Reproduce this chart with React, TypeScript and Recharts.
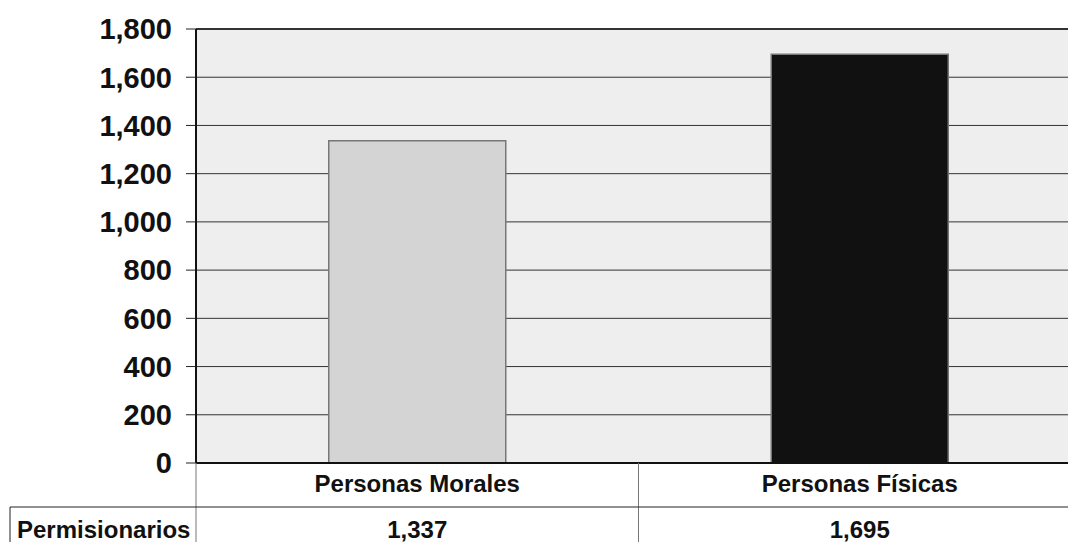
import { BarChart, Bar, XAxis, YAxis, CartesianGrid, Cell, ReferenceLine } from "recharts";

const categories = ["Personas Morales", "Personas Físicas"];
const permisionarios = [1337, 1695];
const barColors = ["#d4d4d4", "#111111"];
const yTicks = [0, 200, 400, 600, 800, 1000, 1200, 1400, 1600, 1800];
const rowLabel = "Permisionarios";

const data = categories.map((name, i) => ({ name, value: permisionarios[i] }));

const fmt = (v: number) => v.toLocaleString("en-US");
const FONT = "'Liberation Sans', Arial, sans-serif";

// category row + data-table row drawn under the plot
const TableTick = (props: any) => {
  const { x, y, index, payload, width, visibleTicksCount } = props;
  const n = visibleTicksCount || categories.length;
  const half = (width || 885) / (2 * n);
  const left = x - half;
  const right = x + half;
  const value = data[index]?.value;
  const textStyle = { fontFamily: FONT, fontWeight: "bold" as const, fontSize: 24, fill: "#111" };
  return (
    <g>
      {index === 0 && <line x1={left} y1={y} x2={left} y2={y + 95} stroke="#777" />}
      <line x1={right} y1={y} x2={right} y2={y + 95} stroke="#777" />
      <line x1={index === 0 ? 10 : left} y1={y + 44} x2={right} y2={y + 44} stroke="#222" />
      {index === 0 && (
        <>
          <line x1={10} y1={y + 44} x2={10} y2={y + 95} stroke="#222" />
          <text x={17} y={y + 75} textAnchor="start" {...textStyle}>
            {rowLabel}
          </text>
        </>
      )}
      <text x={x} y={y + 29} textAnchor="middle" {...textStyle}>
        {payload.value}
      </text>
      <text x={x} y={y + 75} textAnchor="middle" {...textStyle}>
        {value !== undefined ? fmt(value) : ""}
      </text>
    </g>
  );
};

export default function App() {
  return (
    <div
      style={{
        position: "absolute",
        left: 0,
        top: 0,
        width: 1068,
        height: 542,
        overflow: "hidden",
        background: "#fff",
      }}
    >
      <BarChart
        width={1090}
        height={552}
        data={data}
        margin={{ top: 29, right: 9, left: 0, bottom: 0 }}
        barCategoryGap="30%"
        style={{ fontFamily: FONT }}
      >
        <CartesianGrid vertical={false} stroke="#333" fill="#eeeeee" fillOpacity={1} />
        <XAxis
          dataKey="name"
          height={89}
          tickLine={false}
          tickSize={0}
          tickMargin={0}
          interval={0}
          axisLine={{ stroke: "#111", strokeWidth: 2 }}
          tick={<TableTick />}
        />
        <YAxis
          width={196}
          domain={[0, 1800]}
          ticks={yTicks}
          interval={0}
          tickFormatter={fmt}
          tickSize={10}
          tickMargin={14}
          axisLine={{ stroke: "#111", strokeWidth: 2 }}
          tickLine={{ stroke: "#222" }}
          tick={{ fill: "#111", fontSize: 29, fontWeight: "bold", fontFamily: FONT }}
        />
        <ReferenceLine y={1800} stroke="#333" strokeWidth={2} />
        <Bar dataKey="value" stroke="#777" strokeWidth={1.5} isAnimationActive={false}>
          {data.map((d, i) => (
            <Cell key={d.name} fill={barColors[i]} />
          ))}
        </Bar>
      </BarChart>
    </div>
  );
}
